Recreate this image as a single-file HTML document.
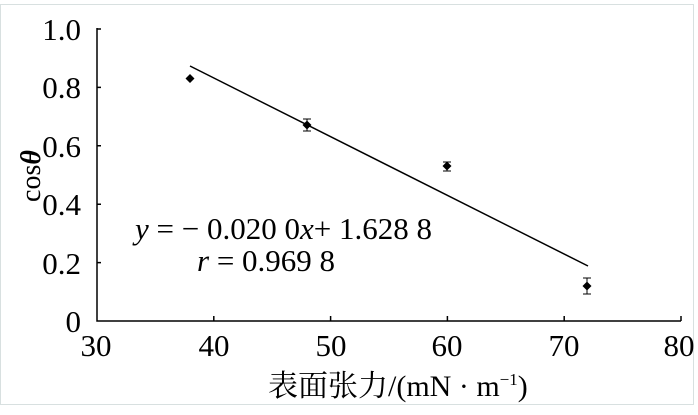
<!DOCTYPE html>
<html><head><style>body{margin:0;background:#fff}</style></head><body>
<svg width="698" height="410" xmlns="http://www.w3.org/2000/svg" font-family="'Liberation Serif','Noto Serif CJK SC',serif">
<rect x="0.5" y="4.5" width="693" height="400" fill="#fff" stroke="#d8e0e0"/>
<g stroke="#000" stroke-width="1.5" fill="none">
<path d="M97,28 V321 H681"/>
<path d="M97,29 h4 M97,87.4 h4 M97,145.8 h4 M97,204.2 h4 M97,262.6 h4"/>
<path d="M213.8,321 v-5 M330.6,321 v-5 M447.4,321 v-5 M564.2,321 v-5 M681,321 v-5"/>
<path d="M190,66 L588,266"/>
<path d="M307,119 v12 M303,119 h8 M303,131 h8 M447,162 v9 M443,162 h8 M443,171 h8 M587,278 v16 M583,278 h8 M583,294 h8" stroke-width="1"/>
</g>
<g fill="#000">
<path d="M190,74 l4.5,4.5 -4.5,4.5 -4.5,-4.5z M307,120.5 l4.5,4.5 -4.5,4.5 -4.5,-4.5z M447,161.5 l4.5,4.5 -4.5,4.5 -4.5,-4.5z M587,281.5 l4.5,4.5 -4.5,4.5 -4.5,-4.5z"/>
</g>
<g font-size="31" text-anchor="end">
<text x="81" y="40">1.0</text><text x="81" y="98">0.8</text><text x="81" y="157">0.6</text><text x="81" y="215">0.4</text><text x="81" y="274">0.2</text><text x="81" y="332">0</text>
</g>
<g font-size="31" text-anchor="middle">
<text x="96" y="356">30</text><text x="214" y="356">40</text><text x="331" y="356">50</text><text x="447" y="356">60</text><text x="564" y="356">70</text><text x="679" y="356">80</text>
</g>
<text font-size="31" x="135" y="239" font-family="'Liberation Serif',serif"><tspan font-style="italic">y</tspan> = − 0.020 0<tspan font-style="italic">x</tspan>+ 1.628 8</text>
<text font-size="31" x="197" y="271" font-family="'Liberation Serif',serif"><tspan font-style="italic">r</tspan> = 0.969 8</text>
<text font-size="30" x="268" y="396">表面张力/(mN · m<tspan font-size="17" dy="-11">−1</tspan><tspan dy="11">)</tspan></text>
<text font-size="28" transform="translate(40,176) rotate(-90)" text-anchor="middle">cos<tspan font-style="italic" font-weight="bold">θ</tspan></text>
</svg>
</body></html>
